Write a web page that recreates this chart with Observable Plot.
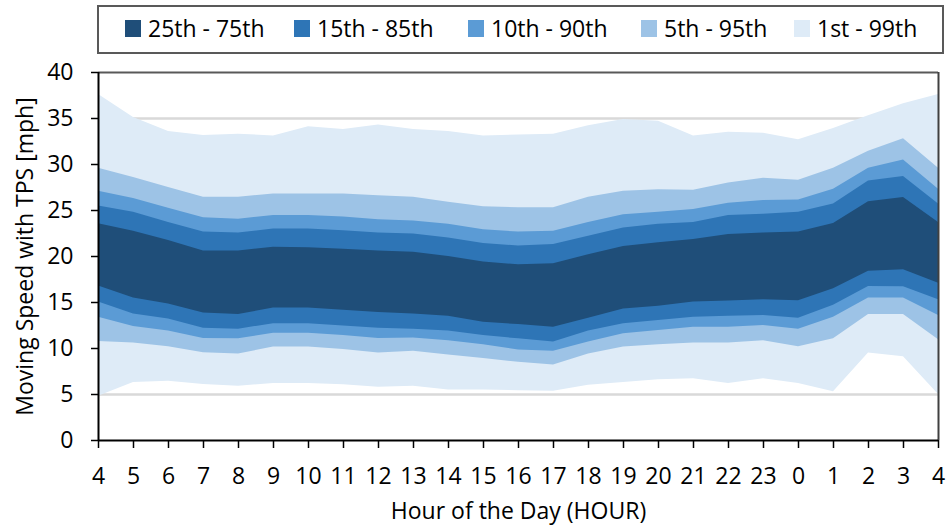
<!DOCTYPE html>
<html>
<head>
<meta charset="utf-8">
<script src="https://cdn.jsdelivr.net/npm/d3@7"></script>
<script src="https://cdn.jsdelivr.net/npm/@observablehq/plot@0.6"></script>
<style>
  html, body { margin: 0; padding: 0; background: #fff; overflow: hidden; }
  #legend { position: relative; width: 951px; height: 54px; font-family: "Open Sans", sans-serif; font-size: 23px; color: #000; }
  #legend .box { position: absolute; left: 97px; top: 5px; width: 843px; height: 45px; border: 2px solid #595959; }
  #legend .item { position: absolute; top: 14px; height: 28px; display: flex; align-items: center; white-space: nowrap; }
  #legend .sw { width: 16px; height: 17px; margin-right: 7px; }
</style>
</head>
<body>
<div id="legend"><div class="box"></div></div>
<div id="chart"></div>
<script>
const hours = [4,5,6,7,8,9,10,11,12,13,14,15,16,17,18,19,20,21,22,23,0,1,2,3,4];
const p1  = [4.8,6.3,6.45,6.1,5.9,6.2,6.2,6.05,5.8,5.9,5.5,5.5,5.4,5.35,6.0,6.3,6.6,6.7,6.2,6.7,6.2,5.3,9.5,9.1,5.0];
const p5  = [10.75,10.6,10.2,9.55,9.4,10.15,10.15,9.9,9.5,9.7,9.3,8.9,8.5,8.2,9.4,10.15,10.4,10.6,10.6,10.85,10.2,11.05,13.7,13.7,10.95];
const p10 = [13.4,12.4,11.9,11.1,11.05,11.65,11.65,11.4,11.1,11.15,10.85,10.4,9.85,9.7,10.7,11.6,11.95,12.3,12.3,12.5,12.1,13.4,15.5,15.5,13.6];
const p15 = [15.05,13.75,13.2,12.2,12.1,12.7,12.7,12.45,12.2,12.1,11.9,11.4,11.05,10.7,11.9,12.7,13.05,13.4,13.5,13.6,13.3,14.7,16.75,16.7,15.3];
const p25 = [16.8,15.5,14.85,13.85,13.7,14.4,14.4,14.15,13.9,13.75,13.5,12.85,12.6,12.3,13.3,14.3,14.6,15.05,15.15,15.3,15.2,16.5,18.4,18.55,17.1];
const p75 = [23.55,22.75,21.75,20.6,20.6,21.0,20.95,20.8,20.6,20.45,20.0,19.4,19.1,19.2,20.2,21.1,21.5,21.85,22.4,22.55,22.65,23.6,25.95,26.4,23.7];
const p85 = [25.5,24.8,23.7,22.65,22.55,23.0,23.0,22.8,22.55,22.45,22.0,21.4,21.15,21.3,22.2,23.1,23.5,23.7,24.45,24.6,24.8,25.7,28.2,28.7,25.7];
const p90 = [27.1,26.3,25.25,24.2,24.05,24.45,24.45,24.3,24.0,23.85,23.5,22.9,22.65,22.75,23.7,24.55,24.8,25.1,25.8,26.1,26.15,27.3,29.6,30.5,27.3];
const p95 = [29.6,28.6,27.5,26.45,26.45,26.8,26.8,26.8,26.6,26.45,25.9,25.4,25.3,25.3,26.45,27.1,27.25,27.2,28.0,28.5,28.3,29.6,31.45,32.8,29.6];
const p99 = [37.6,35.1,33.6,33.15,33.3,33.1,34.1,33.8,34.3,33.8,33.6,33.1,33.2,33.3,34.2,34.9,34.7,33.1,33.5,33.4,32.7,33.9,35.3,36.6,37.6];

const bandLabels = ["25th - 75th","15th - 85th","10th - 90th","5th - 95th","1st - 99th"];
const bandColors = ["#1f4e79","#2e75b6","#5b9bd5","#9dc3e6","#deebf7"];
const yTicks = [0,5,10,15,20,25,30,35,40];

const data = hours.map((h, i) => ({
  i, h, p1: p1[i], p5: p5[i], p10: p10[i], p15: p15[i], p25: p25[i],
  p75: p75[i], p85: p85[i], p90: p90[i], p95: p95[i], p99: p99[i]
}));

// legend
const legend = document.getElementById("legend");
const legendX = [125, 294, 468, 641, 794];
bandLabels.forEach((lab, k) => {
  const it = document.createElement("div");
  it.className = "item";
  it.style.left = legendX[k] + "px";
  const sw = document.createElement("div");
  sw.className = "sw";
  sw.style.background = bandColors[k];
  const tx = document.createElement("span");
  tx.textContent = lab;
  it.appendChild(sw); it.appendChild(tx);
  legend.appendChild(it);
});

const bands = [
  ["p1","p99",4],["p5","p95",3],["p10","p90",2],["p15","p85",1],["p25","p75",0]
];

const chart = Plot.plot({
  width: 951,
  height: 473,
  marginTop: 18,
  marginBottom: 87,
  marginLeft: 98,
  marginRight: 13,
  style: { fontFamily: "Open Sans, sans-serif", fontSize: "23px", color: "#000", background: "#fff" },
  x: { type: "linear", domain: [0, 24] },
  y: { domain: [0, 40] },
  marks: [
    Plot.ruleY(yTicks.filter(t => t > 0 && t < 40), { stroke: "#d9d9d9", strokeWidth: 2.5 }),
    ...bands.map(([lo, hi, k]) => Plot.areaY(data, { x: "i", y1: lo, y2: hi, fill: bandColors[k] })),
    Plot.ruleY([40], { stroke: "#595959", strokeWidth: 2 }),
    Plot.ruleX([24], { stroke: "#404040", strokeWidth: 2 }),
    Plot.ruleX([0], { stroke: "#000", strokeWidth: 2 }),
    Plot.ruleY([0], { stroke: "#000", strokeWidth: 2 }),
    Plot.axisX(d3.range(hours.length), {
      tickFormat: i => hours[i], tickSize: 8, tickPadding: 19, label: null,
      stroke: "#000", strokeWidth: 1.5, fontSize: 23
    }),
    Plot.axisY(yTicks, {
      tickSize: 7, tickPadding: 18, label: null, stroke: "#000", strokeWidth: 1.5, fontSize: 23
    }),
    Plot.text(["Hour of the Day (HOUR)"], { frameAnchor: "bottom", lineAnchor: "middle", dy: 71, fontSize: 23, fill: "#000" }),
    Plot.text(["Moving Speed with TPS [mph]"], { frameAnchor: "left", textAnchor: "middle", dx: -73, rotate: -90, fontSize: 23, fill: "#000" })
  ]
});
document.getElementById("chart").appendChild(chart);
</script>
</body>
</html>
